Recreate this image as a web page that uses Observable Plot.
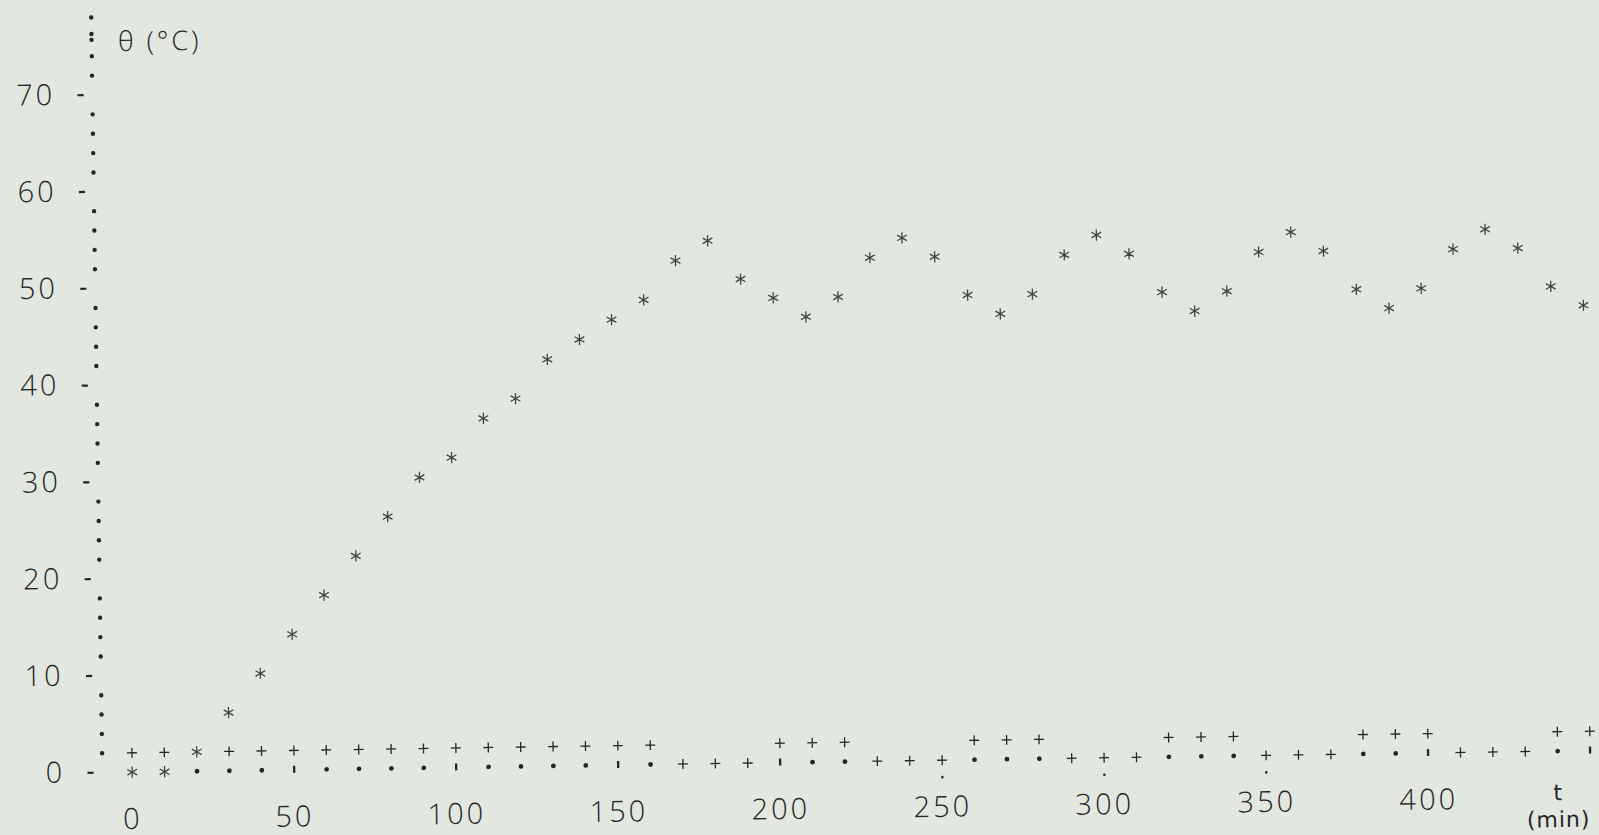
<!DOCTYPE html>
<html>
<head>
<meta charset="utf-8">
<script src="https://cdn.jsdelivr.net/npm/d3@7"></script>
<script src="https://cdn.jsdelivr.net/npm/@observablehq/plot@0.6"></script>
<style>
  html, body { margin: 0; padding: 0; width: 1599px; height: 835px; overflow: hidden; background: #e2e7e0; }
  #chart svg { transform: rotate(-0.85deg); transform-origin: 131.7px 771.7px; overflow: visible; }
  #chart svg text { letter-spacing: 3px; }
  #chart svg g.unit text { letter-spacing: 1px; }
</style>
</head>
<body>
<div id="chart"></div>
<script>
// time (min)
const times = [0,10,20,30,40,50,60,70,80,90,100,110,120,130,140,150,160,170,180,190,200,
  210,220,230,240,250,260,270,280,290,300,310,320,330,340,350,360,370,380,390,400,410,420,430,440,450];
// temperature θ (°C), plotted as "*"
const theta = [0,0,2,6,10,14,18,22,26,30,32,36,38,42,44,46,48,52,54,50,48,
  46,48,52,54,52,48,46,48,52,54,52,48,46,48,52,54,52,48,46,48,52,54,52,48,46];
// heater state (2 = on, 0 = off), plotted as "+"
const heater = [2,2,2,2,2,2,2,2,2,2,2,2,2,2,2,2,2,0,0,0,2,
  2,2,0,0,0,2,2,2,0,0,0,2,2,2,0,0,0,2,2,2,0,0,0,2,2];
// axis tick labels
const xTicks = [0,50,100,150,200,250,300,350,400];
const yTicks = [0,10,20,30,40,50,60,70];
const xUnit = ["t", "(min)"];
const yUnit = "θ (°C)";

const ink = "#262626";
const font = "'Open Sans', 'DejaVu Sans', sans-serif";
const unitFont = "'DejaVu Sans', sans-serif";

const rows = times.map((t, i) => ({t, theta: theta[i], heater: heater[i]}));

// printer-style axes: dotted column every 2 °C, dotted row every 10 min
const yAxisDots = d3.range(2, 80, 2).filter(v => v % 10 !== 0)
  .flatMap(v => v === 76 ? [75.7, 76.3] : [v]);
const free = rows.filter(d => d.theta !== 0 && d.heater !== 0);
const rowDots = free.filter(d => d.t % 50 !== 0);
const rowBars = free.filter(d => d.t % 50 === 0);
const hiddenBars = rows.filter(d => d.t % 50 === 0 && d.heater === 0);
const plus = rows.filter(d => d.heater !== d.theta);

const chart = Plot.plot({
  width: 1599,
  height: 835,
  marginLeft: 131.7,
  marginRight: 9.3,
  marginTop: 94,
  marginBottom: 63.3,
  style: {background: "transparent", color: ink, fontFamily: font, overflow: "visible"},
  x: {domain: [0, 450]},
  y: {domain: [0, 70]},
  marks: [
    Plot.axisY({ticks: yTicks, tickSize: 0, tickPadding: 67, label: null, tickFormat: d => String(d),
      fontSize: 29, fontWeight: 300, fill: ink}),
    Plot.link(yTicks, {x1: -13.8, x2: -11.9, y1: d => d, y2: d => d, stroke: ink, strokeWidth: 2.2}),
    Plot.dot(yAxisDots, {x: -9.2, y: d => d, r: 2.2, fill: ink, stroke: null}),
    Plot.axisX({ticks: xTicks, tickSize: 0, tickPadding: 36, label: null, tickFormat: d => String(d),
      fontSize: 29, fontWeight: 300, fill: ink}),
    Plot.text([xUnit[0]], {x: 440, y: 0, dy: 42, text: d => d, fontSize: 22, fontFamily: unitFont,
      fill: ink, className: "unit"}),
    Plot.text([xUnit[1]], {x: 440, y: 0, dy: 69, text: d => d, fontSize: 22, fontFamily: unitFont,
      fill: ink, className: "unit"}),
    Plot.text([yUnit], {x: -1, y: 75.4, text: d => d, textAnchor: "start", fontSize: 27, fontWeight: 300, fill: ink}),
    Plot.dot(rowDots, {x: "t", y: 0, r: 2.4, fill: ink, stroke: null}),
    Plot.ruleX(rowBars, {x: "t", y1: -0.36, y2: 0.36, stroke: ink, strokeWidth: 2.3}),
    Plot.dot(hiddenBars, {x: "t", y: 0, dy: 17, r: 1.3, fill: ink, stroke: null}),
    Plot.dot(plus, {x: "t", y: "heater", symbol: "plus", r: 3.3, stroke: ink, strokeWidth: 1.3}),
    Plot.dot(rows, {x: "t", y: "theta", symbol: "asterisk", r: 5.3, stroke: "#444", strokeWidth: 1.3})
  ]
});
document.getElementById("chart").appendChild(chart);
</script>
</body>
</html>
